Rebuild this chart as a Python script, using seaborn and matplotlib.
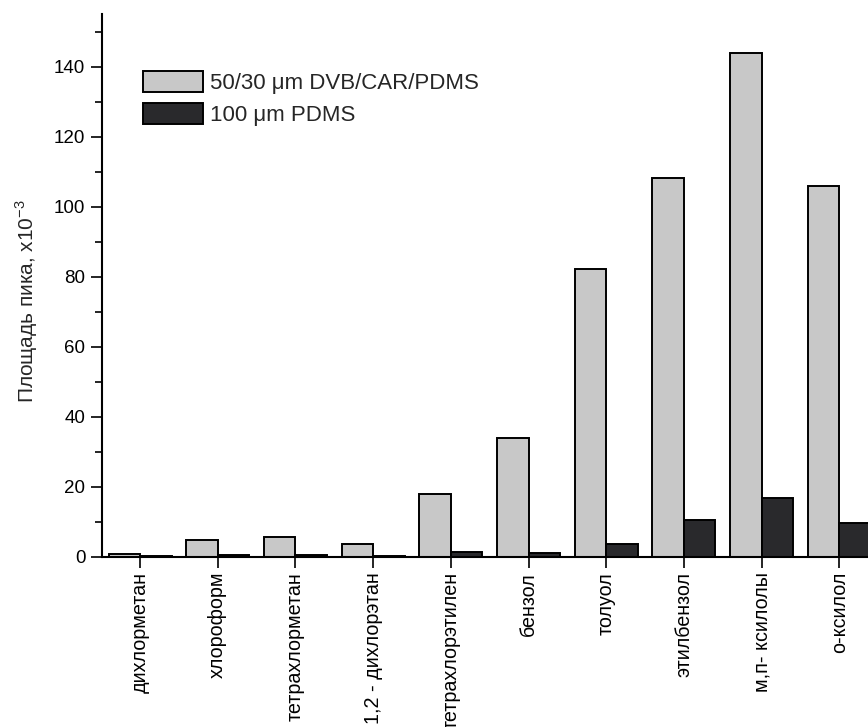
import numpy as np
import pandas as pd
import matplotlib
matplotlib.use('Agg')
import matplotlib.pyplot as plt
from matplotlib.ticker import MultipleLocator
import seaborn as sns

# данные
compounds = ['дихлорметан', 'хлороформ', 'тетрахлорметан', '1,2 - дихлорэтан',
             'тетрахлорэтилен', 'бензол', 'толуол', 'этилбензол',
             'м,п- ксилолы', 'о-ксилол']
dvb_car_pdms = [0.7, 4.7, 5.5, 3.5, 17.9, 33.8, 82.1, 108.3, 144.0, 105.9]
pdms_100 = [0.1, 0.4, 0.6, 0.2, 1.3, 1.1, 3.6, 10.6, 16.7, 9.6]
series_names = ['50/30 \u03bcm DVB/CAR/PDMS', '100 \u03bcm PDMS']

df = pd.DataFrame({
    'compound': compounds * 2,
    'value': dvb_car_pdms + pdms_100,
    'fiber': [series_names[0]] * len(compounds) + [series_names[1]] * len(compounds),
})

sns.set_style('ticks')
plt.rcParams['font.family'] = ['Liberation Sans', 'DejaVu Sans']
plt.rcParams['font.size'] = 13.5

fig = plt.figure(figsize=(8.68, 7.27), dpi=100)
ax = fig.add_axes([0.1175, 0.2343, 0.8825, 0.7464])

sns.barplot(data=df, x='compound', y='value', hue='fiber', order=compounds,
            hue_order=series_names, palette=['#c8c8c8', '#29282d'],
            edgecolor='black', linewidth=1.4, width=0.81, ax=ax)

ax.set_xlim(-0.49, 9.37)
ax.set_ylim(0, 155)
ax.yaxis.set_major_locator(MultipleLocator(20))
ax.yaxis.set_minor_locator(MultipleLocator(10))
ax.tick_params(axis='both', which='major', direction='out', length=8, width=1.2,
               color='black', labelcolor='black')
ax.tick_params(axis='y', which='minor', direction='out', length=5, width=1.2, color='black')
ax.tick_params(axis='x', pad=3, labelsize=14.2)
ax.tick_params(axis='y', pad=4, labelsize=13.5)
plt.setp(ax.get_xticklabels(), rotation=90, ha='center', va='top')

for side in ['top', 'right']:
    ax.spines[side].set_visible(False)
for side in ['left', 'bottom']:
    ax.spines[side].set_linewidth(1.5)
    ax.spines[side].set_color('black')

ax.set_xlabel('')
ax.set_ylabel('Площадь пика, x10$^{\\mathregular{-3}}$', fontsize=15)
ax.yaxis.set_label_coords(-0.081, 0.47)

ax.legend(loc='upper left', bbox_to_anchor=(0.0535, 0.895), frameon=False,
          borderpad=0, borderaxespad=0, handlelength=2.7, handleheight=1.1,
          handletextpad=0.3, labelspacing=0.4, fontsize=16)

fig.savefig('out.png', dpi=100)
